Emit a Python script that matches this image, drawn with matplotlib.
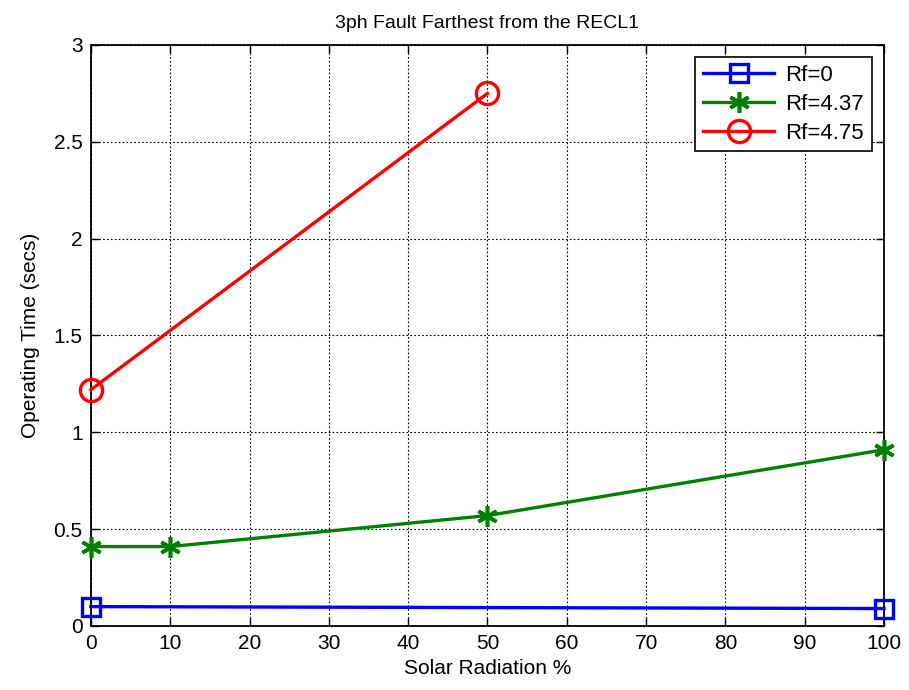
import matplotlib
matplotlib.use('Agg')
import matplotlib.pyplot as plt

plt.rcParams['font.family'] = ['Liberation Sans', 'DejaVu Sans']

# operating times (secs) against solar radiation (%)
x_rf0 = [0, 100]
t_rf0 = [0.10, 0.09]
x_rf437 = [0, 10, 50, 100]
t_rf437 = [0.41, 0.41, 0.57, 0.91]
x_rf475 = [0, 50]
t_rf475 = [1.22, 2.75]

fig = plt.figure(figsize=(9.09, 6.9), dpi=100)
ax = fig.add_axes([0.100, 0.0928, 0.8725, 0.842])

ax.plot(x_rf0, t_rf0, color='#0000ff', lw=2.4, marker='s', ms=13,
        mfc='none', mec='#0000ff', mew=2.4, label='Rf=0', clip_on=False, zorder=5)
ax.plot(x_rf437, t_rf437, color='#008000', lw=2.4, marker=(6, 2, 0), ms=15,
        mec='#008000', mew=2.6, label='Rf=4.37', clip_on=False, zorder=5)
ax.plot(x_rf475, t_rf475, color='#ff0000', lw=2.4, marker='o', ms=16,
        mfc='none', mec='#ff0000', mew=2.4, label='Rf=4.75', clip_on=False, zorder=5)

ax.set_xlim(0, 100)
ax.set_ylim(0, 3)
ax.set_xticks(range(0, 101, 10))
ax.set_yticks([0, 0.5, 1, 1.5, 2, 2.5, 3])
ax.set_yticklabels(['0', '0.5', '1', '1.5', '2', '2.5', '3'])
ax.grid(True, color='black', linestyle=(0, (1.5, 2)), linewidth=0.8)
ax.tick_params(direction='in', top=True, right=True, length=6, width=1,
               labelsize=15, pad=6)
for s in ax.spines.values():
    s.set_linewidth(1.3)

ax.set_xlabel('Solar Radiation %', fontsize=15, labelpad=4)
ax.set_ylabel('Operating Time (secs)', fontsize=15, labelpad=10)
ax.set_title('3ph Fault Farthest from the RECL1', fontsize=14, pad=12)

leg = ax.legend(loc='upper right', fontsize=16, fancybox=False, framealpha=1,
                edgecolor='black', handlelength=3.2, borderpad=0.35,
                labelspacing=0.35, borderaxespad=0.55, handletextpad=0.5)
leg.get_frame().set_linewidth(1.2)

fig.savefig('out.png', dpi=100)
